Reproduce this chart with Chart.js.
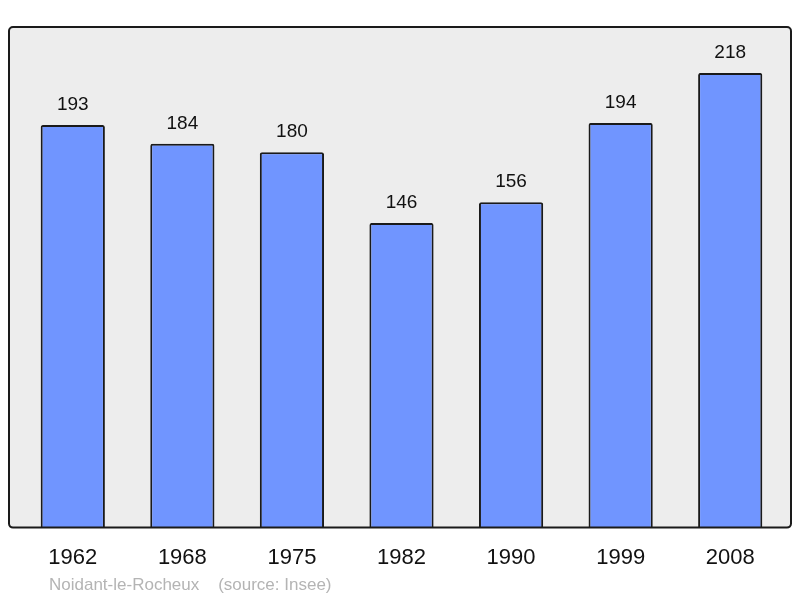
<!DOCTYPE html>
<html>
<head>
<meta charset="utf-8">
<script src="https://cdn.jsdelivr.net/npm/chart.js@4/dist/chart.umd.min.js"></script>
<style>
  html, body { margin: 0; padding: 0; background: #fff; }
  #wrap { width: 800px; height: 598px; }
</style>
</head>
<body>
<div id="wrap"><canvas id="chart"></canvas></div>
<script>
// population by census year
const years = ['1962', '1968', '1975', '1982', '1990', '1999', '2008'];
const population = [193, 184, 180, 146, 156, 194, 218];
const yMax = 240;
const footerText = 'Noidant-le-Rocheux    (source: Insee)';

// grey frame behind the bars, numbers above them, footer line
const framePlugin = {
    id: 'frame',
    beforeDraw: function(chart) {
        const ctx = chart.ctx;
        const area = chart.chartArea;
        ctx.save();
        ctx.beginPath();
        ctx.roundRect(9, area.top, 782, area.bottom - area.top, 4);
        ctx.fillStyle = '#ededed';
        ctx.fill();
        ctx.restore();
    },
    afterDatasetsDraw: function(chart) {
        const ctx = chart.ctx;
        const area = chart.chartArea;
        ctx.save();
        ctx.beginPath();
        ctx.roundRect(9, area.top, 782, area.bottom - area.top, 4);
        ctx.lineWidth = 2;
        ctx.strokeStyle = '#1a1a1a';
        ctx.stroke();

        const meta = chart.getDatasetMeta(0);
        ctx.fillStyle = '#111';
        ctx.font = '19px "Liberation Sans", Arial, sans-serif';
        ctx.textAlign = 'center';
        ctx.textBaseline = 'middle';
        meta.data.forEach(function(bar, i) {
            ctx.fillText(population[i], bar.x, bar.y - 20);
        });

        ctx.fillStyle = '#b4b4b4';
        ctx.font = '17px "Liberation Sans", Arial, sans-serif';
        ctx.textAlign = 'left';
        ctx.fillText(footerText, 49, 585);
        ctx.restore();
    }
};

const ctx = document.getElementById('chart').getContext('2d');
window.popChart = new Chart(ctx, {
    type: 'bar',
    data: {
        labels: years,
        datasets: [{
            data: population,
            backgroundColor: '#7095ff',
            borderColor: '#1a1a1a',
            borderWidth: 2,
            borderSkipped: 'bottom',
            borderRadius: 2,
            barPercentage: 0.586,
            categoryPercentage: 1
        }]
    },
    options: {
        responsive: true,
        maintainAspectRatio: false,
        animation: false,
        layout: { padding: { top: 27, left: 18, right: 15, bottom: 10 } },
        plugins: {
            legend: { display: false },
            tooltip: { enabled: false }
        },
        scales: {
            x: {
                grid: { display: false, drawTicks: false },
                border: { display: false },
                ticks: {
                    color: '#111',
                    padding: 17,
                    font: { size: 22, family: '"Liberation Sans", Arial, sans-serif' }
                }
            },
            y: {
                display: false,
                min: 0,
                max: yMax
            }
        }
    },
    plugins: [framePlugin]
});
</script>
</body>
</html>
